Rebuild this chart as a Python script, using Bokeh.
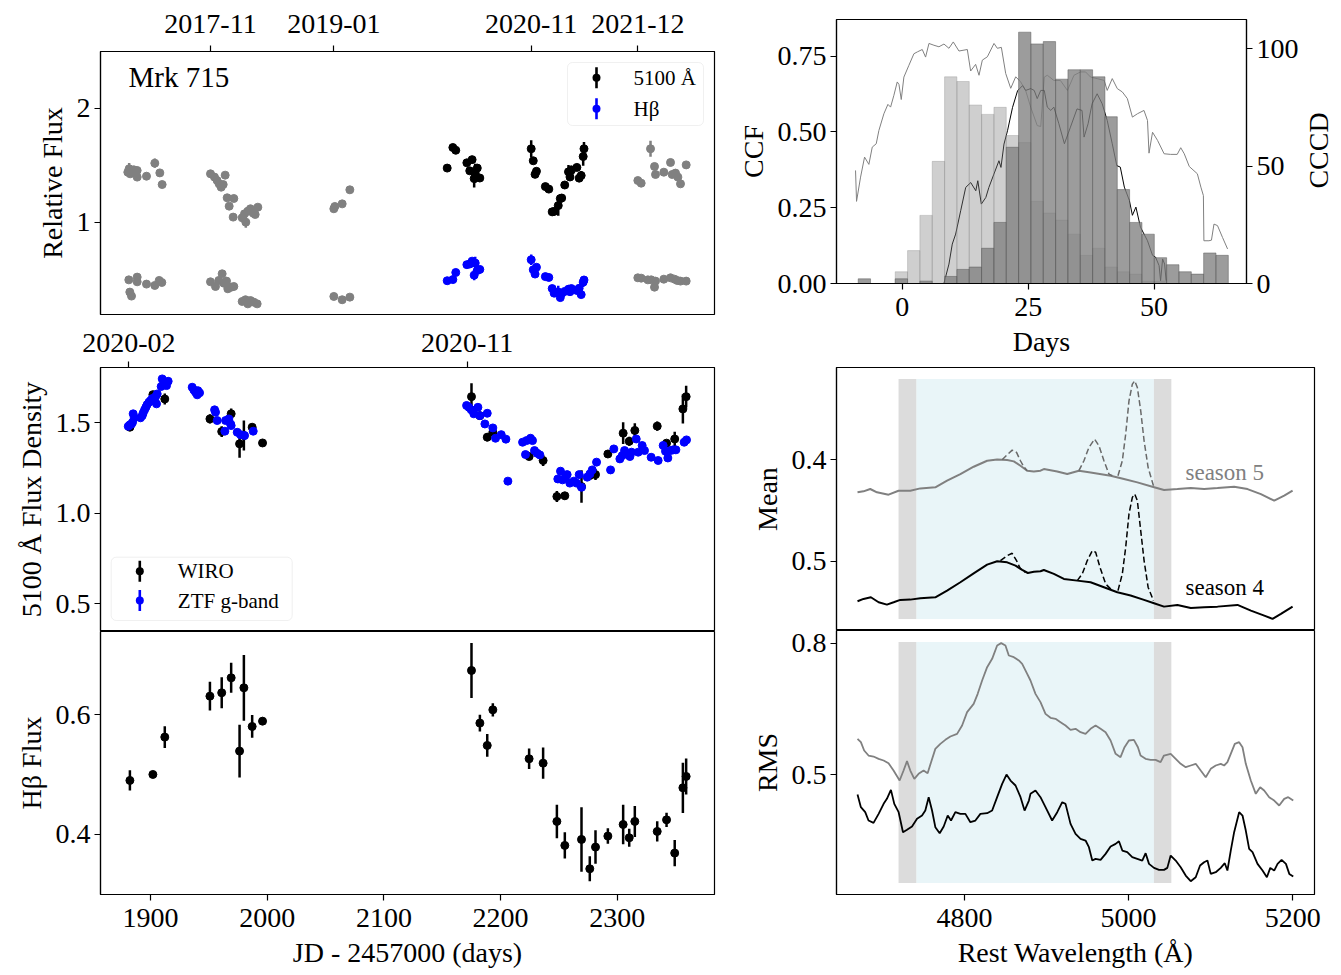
import math
import numpy as np
from bokeh.plotting import figure
from bokeh.models import (Range1d, LinearAxis, FixedTicker, Label, BoxAnnotation,
                          NumeralTickFormatter)
from bokeh.layouts import row, column
from bokeh.embed import file_html
from bokeh.resources import INLINE

# ---------------------------------------------------------------- data
# WIRO spectroscopic epochs (JD - 2457000)
wiro_days = [1882.3, 1902.0, 1912.2, 1950.9, 1961.0, 1969.1, 1976.3, 1980.0, 1987.1, 1996.0,
             2175.1, 2182.3, 2188.6, 2193.4, 2224.5, 2236.5, 2248.3, 2255.1, 2269.4, 2276.5,
             2281.4, 2292.0, 2305.1, 2310.3, 2315.1, 2334.3, 2342.3, 2349.3, 2356.3, 2359.1]
wiro_cont = [1.476, 1.656, 1.632, 1.522, 1.452, 1.550, 1.384, 1.430, 1.476, 1.389,
             1.645, 1.540, 1.421, 1.448, 1.314, 1.292, 1.093, 1.097, 1.148, 1.209,
             1.214, 1.328, 1.443, 1.398, 1.458, 1.482, 1.388, 1.411, 1.577, 1.645]
wiro_cont_err = [0.010, 0.015, 0.030, 0.025, 0.030, 0.030, 0.077, 0.083, 0.015, 0.010,
                 0.074, 0.020, 0.022, 0.010, 0.015, 0.030, 0.030, 0.020, 0.090, 0.025,
                 0.030, 0.010, 0.060, 0.025, 0.040, 0.025, 0.010, 0.040, 0.080, 0.060]
wiro_hb = [0.4903, 0.5003, 0.5627, 0.6312, 0.6368, 0.6618, 0.5393, 0.6451, 0.5805, 0.5894,
           0.6741, 0.5861, 0.5488, 0.6083, 0.5265, 0.5192, 0.4218, 0.3817, 0.3917, 0.3427,
           0.3789, 0.3973, 0.4167, 0.3945, 0.4218, 0.4051, 0.4245, 0.3689, 0.4780, 0.4970]
wiro_hb_err = [0.017, 0.005, 0.018, 0.024, 0.026, 0.025, 0.044, 0.055, 0.019, 0.006,
               0.046, 0.014, 0.019, 0.011, 0.017, 0.026, 0.028, 0.022, 0.054, 0.021,
               0.028, 0.013, 0.033, 0.015, 0.026, 0.017, 0.012, 0.022, 0.042, 0.030]

# ZTF g-band photometry
ztf_days = [1880.9, 1882.3, 1883.7, 1884.6, 1885.1, 1886.0, 1891.4, 1892.9, 1893.7, 1894.9,
            1896.0, 1897.1, 1898.6, 1900.0, 1901.4, 1902.9, 1904.3, 1905.1, 1905.7, 1909.1,
            1910.0, 1911.4, 1913.7, 1915.1, 1935.7, 1937.1, 1938.6, 1940.0, 1940.6, 1942.0,
            1954.9, 1955.7, 1957.1, 1963.7, 1964.3, 1967.1, 1968.6, 1969.1, 1974.3, 1977.1,
            1980.6, 1988.0,
            2170.9, 2172.9, 2174.9, 2177.1, 2180.6, 2182.3, 2186.6, 2188.6, 2193.4, 2195.7,
            2200.6, 2204.6, 2206.3, 2218.9, 2222.3, 2225.7, 2227.4, 2221.4, 2229.1, 2231.4,
            2233.7, 2249.1, 2251.4, 2253.1, 2255.7, 2257.1, 2259.4, 2262.9, 2265.1, 2267.4,
            2269.4, 2274.3, 2276.6, 2278.6, 2282.3, 2294.3, 2297.1, 2302.3, 2304.3, 2306.3,
            2308.6, 2310.9, 2312.3, 2316.3, 2318.0, 2321.4, 2323.4, 2329.1, 2335.1, 2339.4,
            2341.4, 2343.4, 2345.7, 2348.0, 2350.3, 2357.4, 2359.4]
ztf_flux = [1.481, 1.489, 1.494, 1.504, 1.550, 1.528, 1.528, 1.540, 1.555, 1.572,
            1.586, 1.601, 1.614, 1.623, 1.634, 1.627, 1.645, 1.605, 1.660, 1.701,
            1.743, 1.719, 1.706, 1.730, 1.697, 1.682, 1.669, 1.655, 1.678, 1.666,
            1.572, 1.559, 1.513, 1.454, 1.513, 1.522, 1.494, 1.485, 1.448, 1.435,
            1.430, 1.454,
            1.596, 1.586, 1.572, 1.550, 1.586, 1.540, 1.494, 1.553, 1.472, 1.415,
            1.435, 1.410, 1.178, 1.393, 1.402, 1.415, 1.402, 1.325, 1.347, 1.332,
            1.323, 1.190, 1.233, 1.185, 1.200, 1.214, 1.167, 1.178, 1.167, 1.214,
            1.144, 1.200, 1.218, 1.240, 1.283, 1.240, 1.356, 1.301, 1.319, 1.347,
            1.328, 1.314, 1.338, 1.411, 1.338, 1.375, 1.347, 1.310, 1.292, 1.375,
            1.343, 1.306, 1.347, 1.351, 1.351, 1.393, 1.406]

# other seasons (relative flux, grey)
other_cont_days = [769.1, 773.8, 777.3, 790.0, 801.7, 801.7, 834.2, 863.2, 880.7, 888.8,
                   1057.3, 1071.2, 1080.5, 1087.5, 1094.5, 1101.5, 1108.4, 1115.4, 1122.4, 1138.6,
                   1136.3, 1167.7, 1175.8, 1180.4, 1187.4, 1196.7, 1206.0, 1213.0, 1222.3,
                   1487.2, 1490.7, 1516.2, 1543.0,
                   2546.8, 2558.4, 2591.0, 2604.9, 2608.4, 2637.4, 2660.7, 2666.5, 2678.1, 2686.3,
                   2695.5, 2715.3]
other_cont = [1.440, 1.470, 1.426, 1.461, 1.455, 1.397, 1.405, 1.519, 1.434, 1.332,
              1.426, 1.397, 1.367, 1.338, 1.309, 1.332, 1.414, 1.216, 1.143, 1.210,
              1.047, 1.041, 1.076, 1.003, 1.099, 1.120, 1.082, 1.070, 1.134,
              1.120, 1.140, 1.163, 1.286,
              1.367, 1.344, 1.645, 1.490, 1.420, 1.440, 1.525, 1.420, 1.432, 1.397,
              1.338, 1.504]
other_cont_err = [0.02, 0.05, 0.02, 0.01, 0.01, 0.01, 0.03, 0.04, 0.03, 0.03,
                  0.01, 0.01, 0.01, 0.01, 0.02, 0.01, 0.02, 0.02, 0.01, 0.03,
                  0.01, 0.01, 0.01, 0.05, 0.02, 0.01, 0.01, 0.01, 0.01,
                  0.01, 0.01, 0.01, 0.01,
                  0.01, 0.01, 0.07, 0.01, 0.03, 0.01, 0.03, 0.01, 0.01, 0.01,
                  0.01, 0.03]
other_hb_days = [772.6, 776.1, 782.0, 801.7, 801.7, 834.2, 863.2, 878.4, 887.7,
                 1057.3, 1074.7, 1086.3, 1097.9, 1103.8, 1113.1, 1117.7, 1129.3, 1138.6, 1167.7,
                 1179.3, 1187.4, 1196.7, 1208.3, 1219.9,
                 1487.2, 1516.2, 1543.0,
                 2546.8, 2558.4, 2581.7, 2593.3, 2604.9, 2608.4, 2637.4, 2660.7, 2674.6, 2683.9,
                 2695.5, 2715.3]
other_hb = [0.498, 0.391, 0.356, 0.522, 0.481, 0.461, 0.449, 0.493, 0.475,
            0.481, 0.440, 0.493, 0.551, 0.469, 0.487, 0.420, 0.434, 0.440, 0.309,
            0.324, 0.288, 0.317, 0.303, 0.288,
            0.353, 0.324, 0.347,
            0.516, 0.513, 0.498, 0.498, 0.434, 0.487, 0.504, 0.516, 0.504, 0.493,
            0.487, 0.487]
other_hb_err = [0.01, 0.02, 0.01, 0.01, 0.01, 0.01, 0.01, 0.01, 0.01,
                0.01, 0.01, 0.01, 0.01, 0.01, 0.01, 0.02, 0.01, 0.01, 0.01,
                0.01, 0.01, 0.01, 0.01, 0.01,
                0.01, 0.01, 0.01,
                0.01, 0.01, 0.01, 0.01, 0.02, 0.01, 0.01, 0.01, 0.01, 0.01,
                0.01, 0.01]

# date ticks
lc_tick_days = [1057.3, 1487.2, 2175.1, 2546.8]
lc_tick_labels = ["2017-11", "2019-01", "2020-11", "2021-12"]
zoom_tick_days = [1881.4, 2171.4]
zoom_tick_labels = ["2020-02", "2020-11"]
jd_ticks = [1900, 2000, 2100, 2200, 2300]

# CCF / CCCD
ccf_a_lag = [-9.28, -9.08, -8.28, -7.49, -6.63, -5.96, -5.17, -4.64, -3.65, -2.85,
             -2.32, -1.66, -1.0, -0.66, -0.2, 0.32, 1.32, 2.31, 2.98, 3.97,
             4.63, 5.3, 6.29, 7.28, 8.28, 9.27, 10.13, 11.26, 12.92, 13.58,
             14.57, 15.24, 15.9, 16.9, 18.22, 18.88, 19.68, 20.54, 21.54, 22.53,
             23.52, 24.5, 25.5, 26.8, 27.5, 28.2, 28.8, 30.1, 31.4, 32.8,
             34.1, 35.4, 36.4, 37.4, 38.7, 40.1, 40.7, 41.7, 42.7, 43.7,
             44.7, 45.7, 46.7, 48.0, 48.7, 49.0, 49.7, 50.7, 52.0, 53.3,
             54.6, 55.3, 56.0, 57.0, 58.6, 59.3, 59.8, 59.9, 60.9, 61.4,
             61.9, 62.6, 63.6, 64.6]
ccf_a = [0.373, 0.271, 0.351, 0.417, 0.393, 0.450, 0.461, 0.505, 0.560, 0.591,
         0.582, 0.621, 0.665, 0.657, 0.607, 0.681, 0.720, 0.758, 0.764, 0.772,
         0.747, 0.792, 0.786, 0.781, 0.790, 0.776, 0.797, 0.767, 0.772, 0.701,
         0.723, 0.687, 0.737, 0.748, 0.792, 0.776, 0.779, 0.693, 0.644, 0.682,
         0.665, 0.637, 0.582, 0.521, 0.518, 0.681, 0.687, 0.670, 0.670, 0.637,
         0.687, 0.698, 0.698, 0.681, 0.676, 0.670, 0.637, 0.676, 0.643, 0.632,
         0.610, 0.549, 0.560, 0.571, 0.538, 0.430, 0.499, 0.472, 0.428, 0.426,
         0.426, 0.448, 0.428, 0.386, 0.362, 0.318, 0.290, 0.141, 0.141, 0.143,
         0.196, 0.191, 0.152, 0.114]
ccf_b_lag = [8.27, 9.27, 9.93, 10.6, 11.6, 12.6, 13.6, 14.6, 15.0, 15.7,
             16.6, 17.2, 18.2, 19.2, 19.6, 20.2, 20.9, 21.9, 22.9, 23.9,
             24.5, 25.5, 26.2, 26.8, 27.5, 28.2, 28.8, 29.5, 30.1, 31.1,
             32.2, 33.4, 34.7, 35.7, 36.1, 36.9, 37.7, 38.7, 39.7, 40.7,
             41.7, 42.6, 43.3, 44.1, 45.1, 45.7, 46.4, 47.3, 48.7, 49.7,
             50.3, 51.0, 51.3, 51.7, 52.1, 52.4]
ccf_b = [0.0, 0.064, 0.130, 0.163, 0.240, 0.317, 0.333, 0.306, 0.339, 0.262,
         0.284, 0.317, 0.361, 0.405, 0.383, 0.460, 0.504, 0.581, 0.636, 0.653,
         0.637, 0.643, 0.637, 0.610, 0.637, 0.637, 0.582, 0.571, 0.582, 0.527,
         0.461, 0.516, 0.576, 0.571, 0.483, 0.527, 0.593, 0.626, 0.593, 0.538,
         0.461, 0.389, 0.384, 0.318, 0.274, 0.225, 0.252, 0.186, 0.141, 0.093,
         0.087, 0.059, 0.009, 0.081, 0.064, 0.009]
cccd_bin_start = -8.75
cccd_bin_width = 2.45
cccd_light = [0, 0, 0, 5, 14, 29, 52, 88, 86, 76, 72, 75, 63, 60, 35,
              30, 27, 21, 12, 15, 7, 5, 4, 1, 1, 0, 0, 0, 0, 0]
cccd_dark = [2, 0, 0, 2, 0, 1, 0, 3, 6, 7, 15, 26, 58, 107, 102,
             103, 87, 91, 91, 88, 71, 40, 26, 21, 11, 8, 5, 4, 13, 12]

# mean spectra
mean_s5_wave = [4669.8, 4677.1, 4685.3, 4693.5, 4707.6, 4719.8, 4734.1, 4746.3, 4764.6, 4778.9,
                4795.1, 4811.3, 4827.7, 4839.9, 4852.1, 4860.2, 4868.3, 4876.5, 4884.6, 4892.7,
                4896.8, 4913.1, 4925.3, 4939.5, 4953.7, 4978.1, 4994.4, 5010.7, 5029.0, 5043.2,
                5059.5, 5075.8, 5092.0, 5108.3, 5128.6, 5144.9, 5161.2, 5177.4, 5189.6, 5199.8]
mean_s5 = [0.3679, 0.3689, 0.3712, 0.3679, 0.3656, 0.3695, 0.3695, 0.3718, 0.3728, 0.3794,
           0.3859, 0.3931, 0.3990, 0.4003, 0.3997, 0.3984, 0.3941, 0.3892, 0.3885, 0.3892,
           0.3908, 0.3885, 0.3859, 0.3892, 0.3875, 0.3843, 0.3810, 0.3777, 0.3734, 0.3702,
           0.3711, 0.3721, 0.3711, 0.3721, 0.3734, 0.3711, 0.3662, 0.3597, 0.3646, 0.3695]
mean_s4_wave = [4669.8, 4677.1, 4686.1, 4695.5, 4705.6, 4713.8, 4721.9, 4734.1, 4746.3, 4764.6,
                4778.9, 4795.1, 4811.3, 4827.7, 4839.9, 4852.1, 4862.3, 4870.4, 4877.3, 4884.6,
                4892.7, 4896.8, 4909.0, 4921.2, 4937.5, 4953.7, 4970.0, 4986.3, 5002.5, 5018.8,
                5031.0, 5043.2, 5059.5, 5075.8, 5092.0, 5108.3, 5132.7, 5149.0, 5165.3, 5175.4,
                5185.6, 5199.8]
mean_s4 = [0.4607, 0.4630, 0.4646, 0.4597, 0.4574, 0.4597, 0.4620, 0.4623, 0.4636, 0.4646,
           0.4712, 0.4794, 0.4882, 0.4967, 0.5000, 0.4990, 0.4957, 0.4915, 0.4885, 0.4898,
           0.4902, 0.4915, 0.4876, 0.4827, 0.4810, 0.4794, 0.4745, 0.4695, 0.4663, 0.4620,
           0.4587, 0.4554, 0.4571, 0.4541, 0.4548, 0.4554, 0.4571, 0.4515, 0.4466, 0.4433,
           0.4482, 0.4554]
season4_offset = 0.2   # season 4 mean spectrum is drawn shifted down by this amount

# narrow-line (Hbeta, [OIII] 4959, 5007) models, dashed
narrow_s5_wave = [[4846.0, 4852.1, 4858.2, 4863.5, 4868.3, 4872.4, 4876.5],
                  [4939.5, 4945.6, 4951.7, 4958.6, 4963.9, 4970.0, 4976.1, 4980.2],
                  [4987.1, 4992.4, 4996.5, 5000.5, 5004.6, 5007.5, 5010.7, 5014.8, 5018.9, 5023.8, 5030.3]]
narrow_s5 = [[0.4000, 0.4049, 0.4095, 0.4072, 0.3990, 0.3931, 0.3892],
             [0.3892, 0.3990, 0.4121, 0.4203, 0.4138, 0.3990, 0.3859, 0.3843],
             [0.3843, 0.3990, 0.4252, 0.4580, 0.4744, 0.4777, 0.4711, 0.4482, 0.4187, 0.3925, 0.3744]]
narrow_s4_wave = [[4843.9, 4852.1, 4858.2, 4863.5, 4868.3, 4874.4],
                  [4937.5, 4943.6, 4949.7, 4955.8, 4959.9, 4965.2, 4972.1, 4980.2],
                  [4987.1, 4992.4, 4996.5, 5000.5, 5004.6, 5007.5, 5010.7, 5014.8, 5018.9, 5023.8, 5030.3]]
narrow_s4 = [[0.5007, 0.5056, 0.5079, 0.5007, 0.4925, 0.4892],
             [0.4810, 0.4876, 0.5007, 0.5105, 0.5089, 0.4941, 0.4777, 0.4712],
             [0.4712, 0.4876, 0.5138, 0.5466, 0.5630, 0.5662, 0.5597, 0.5302, 0.5007, 0.4745, 0.4613]]

# RMS spectra
rms_s5_wave = [4669.8, 4673.9, 4677.9, 4683.2, 4689.3, 4695.5, 4701.6, 4707.6, 4713.7, 4721.1,
               4725.9, 4730.1, 4734.1, 4739.0, 4744.2, 4750.3, 4755.2, 4759.4, 4764.6, 4770.7,
               4776.8, 4782.9, 4791.1, 4797.2, 4803.3, 4811.3, 4816.2, 4821.6, 4827.7, 4833.8,
               4839.9, 4844.8, 4850.0, 4854.1, 4860.2, 4866.3, 4870.4, 4876.5,
               4880.5, 4886.6, 4892.7, 4898.8, 4904.9, 4911.0, 4917.1, 4923.2, 4929.3, 4935.4,
               4941.5, 4947.6, 4953.7, 4959.8, 4965.9, 4972.0, 4978.1, 4984.2, 4990.2, 4995.1,
               5000.4, 5006.5, 5011.4, 5014.6, 5020.7, 5026.8, 5032.9, 5039.0, 5043.1, 5051.3,
               5057.4, 5063.5, 5069.6, 5075.7, 5081.8, 5087.9, 5094.0, 5100.1, 5106.2, 5112.3,
               5116.4, 5120.4, 5124.5, 5129.4, 5134.7, 5138.8, 5142.8, 5148.9, 5155.0, 5160.3,
               5165.2, 5171.3, 5177.4, 5183.5, 5189.6, 5194.5, 5200.6]
rms_s5 = [0.5815, 0.5739, 0.5548, 0.5434, 0.5411, 0.5358, 0.5320, 0.5259, 0.5091, 0.4863,
          0.5091, 0.5305, 0.5091, 0.4901, 0.5015, 0.5091, 0.5030, 0.5282, 0.5586, 0.5700,
          0.5792, 0.5868, 0.5929, 0.6119, 0.6424, 0.6614, 0.6843, 0.7148, 0.7452, 0.7643,
          0.7947, 0.8001, 0.7947, 0.7719, 0.7681, 0.7605, 0.7528, 0.7300,
          0.7148, 0.6843, 0.6653, 0.6386, 0.6295, 0.6272, 0.6196, 0.6119, 0.6020, 0.6043,
          0.5967, 0.5929, 0.6043, 0.6119, 0.6043, 0.5967, 0.5777, 0.5472, 0.5396, 0.5624,
          0.5777, 0.5792, 0.5624, 0.5434, 0.5358, 0.5335, 0.5335, 0.5282, 0.5434, 0.5472,
          0.5358, 0.5244, 0.5167, 0.5206, 0.5244, 0.5091, 0.4939, 0.5129, 0.5206, 0.5244,
          0.5206, 0.5282, 0.5472, 0.5700, 0.5739, 0.5624, 0.5244, 0.4863, 0.4558, 0.4710,
          0.4634, 0.4482, 0.4406, 0.4292, 0.4444, 0.4482, 0.4406]
rms_s4_wave = [4669.8, 4673.9, 4679.2, 4683.2, 4689.3, 4695.5, 4701.6, 4705.6, 4710.5, 4714.6,
               4719.9, 4725.2, 4730.1, 4736.2, 4742.3, 4748.4, 4752.4, 4756.5, 4760.6, 4764.6,
               4769.9, 4774.8, 4779.7, 4783.7, 4789.0, 4795.1, 4801.2, 4807.3, 4813.4, 4819.5,
               4827.7, 4833.8, 4839.9, 4846.0, 4851.3, 4856.2, 4862.3, 4868.4, 4873.3, 4878.6,
               4880.5, 4886.6, 4892.7, 4898.8, 4906.9, 4913.1, 4919.2, 4923.2, 4929.3, 4935.4,
               4941.5, 4947.6, 4951.7, 4955.8, 4959.8, 4965.9, 4972.0, 4978.1, 4984.2, 4988.3,
               4992.4, 4998.4, 5004.5, 5010.6, 5016.7, 5020.8, 5024.9, 5031.0, 5037.1, 5043.2,
               5047.2, 5051.3, 5057.4, 5063.5, 5069.6, 5075.7, 5081.8, 5087.1, 5092.0, 5096.1,
               5100.1, 5106.2, 5112.3, 5117.2, 5120.4, 5124.5, 5128.6, 5134.7, 5138.8, 5142.8,
               5146.9, 5151.0, 5157.1, 5163.2, 5168.5, 5172.6, 5177.4, 5181.5, 5186.4, 5191.7,
               5195.8, 5200.6]
rms_s4 = [0.4543, 0.4253, 0.4139, 0.3949, 0.3895, 0.4101, 0.4330, 0.4444, 0.4650, 0.4330,
          0.4139, 0.3682, 0.3736, 0.3812, 0.3987, 0.4063, 0.4177, 0.4482, 0.4177, 0.3797,
          0.3659, 0.3812, 0.4063, 0.3949, 0.4139, 0.4101, 0.4101, 0.3911, 0.3949, 0.4101,
          0.4116, 0.4177, 0.4482, 0.4787, 0.5000, 0.4863, 0.4749, 0.4482, 0.4177, 0.4406,
          0.4558, 0.4634, 0.4482, 0.4253, 0.3949, 0.4139, 0.4368, 0.4330, 0.3873, 0.3644,
          0.3530, 0.3492, 0.3340, 0.3035, 0.3073, 0.3050, 0.3187, 0.3355, 0.3416, 0.3477,
          0.3263, 0.3225, 0.3111, 0.3073, 0.3035, 0.3202, 0.2959, 0.2867, 0.2822, 0.2822,
          0.2867, 0.3149, 0.3035, 0.2883, 0.2692, 0.2563, 0.2654, 0.2921, 0.2997, 0.3035,
          0.2730, 0.2768, 0.2867, 0.2974, 0.2806, 0.3263, 0.3682, 0.4139, 0.4063, 0.3720,
          0.3301, 0.3225, 0.2959, 0.2806, 0.2654, 0.2867, 0.2806, 0.2959, 0.3050, 0.2959,
          0.2730, 0.2669]

# wavelength windows
cont_windows = [(4719.8, 4741.4), (5030.9, 5052.1)]
line_window = (4741.4, 5030.9)

# ---------------------------------------------------------------- style
FONT = "Liberation Serif"
TICK_FS = "28px"
LABEL_FS = "28px"


def new_fig(**kw):
    p = figure(toolbar_location=None, output_backend="svg", **kw)
    p.xgrid.visible = False
    p.ygrid.visible = False
    p.outline_line_color = "black"
    p.outline_line_width = 1.2
    p.background_fill_color = "white"
    p.border_fill_color = "white"
    return p


def style_axes(p, above_standoff=10):
    for ax in p.axis:
        ax.major_label_text_font = FONT
        ax.major_label_text_font_size = TICK_FS
        ax.major_label_text_color = "black"
        ax.axis_label_text_font = FONT
        ax.axis_label_text_font_size = LABEL_FS
        ax.axis_label_text_font_style = "normal"
        ax.axis_label_text_color = "black"
        ax.minor_tick_line_color = None
        ax.major_tick_in = 0
        ax.major_tick_out = 6
        ax.major_tick_line_width = 1.2
        ax.axis_line_width = 1.2
        ax.major_label_standoff = 4
        ax.axis_label_standoff = 6
    for ax in p.above:
        ax.major_label_standoff = above_standoff
    for ax in p.below:
        ax.major_label_standoff = 8
        ax.axis_label_standoff = 7


def errorbars(p, x, y, e, color, **kw):
    x = np.asarray(x, float)
    y = np.asarray(y, float)
    e = np.asarray(e, float)
    p.segment(x0=x, y0=y - e, x1=x, y1=y + e, line_color=color, line_width=2.5, **kw)
    p.scatter(x=x, y=y, size=8, fill_color=color, line_color=color, **kw)


def screen_box(**kw):
    return BoxAnnotation(left_units="screen", right_units="screen",
                         top_units="screen", bottom_units="screen", **kw)


def errbar_legend(p, box, glyph_x, text_x, entries, fs="21px"):
    l, r, b, t = box
    p.add_layout(screen_box(left=l, right=r, bottom=b, top=t, fill_color="white",
                            fill_alpha=0.85, line_color="#cccccc", line_width=1,
                            border_radius=5))
    for gy, color, text in entries:
        p.add_layout(screen_box(left=glyph_x - 1.3, right=glyph_x + 1.3, bottom=gy - 10.5,
                                top=gy + 10.5, fill_color=color, fill_alpha=1,
                                line_color=None))
        p.add_layout(screen_box(left=glyph_x - 4, right=glyph_x + 4, bottom=gy - 4,
                                top=gy + 4, fill_color=color, fill_alpha=1,
                                line_color=None, border_radius=4))
        p.add_layout(Label(x=text_x, y=gy, x_units="screen", y_units="screen", text=text,
                           text_font=FONT, text_font_size=fs, text_baseline="middle",
                           text_color="black"))


# ---------------------------------------------------------------- panel 1: long light curve
p1 = new_fig(width=724, height=320, x_range=Range1d(673.9, 2814.0),
             y_range=Range1d(0.195, 2.496), x_axis_location="above",
             min_border_left=100, min_border_right=10, min_border_top=51, min_border_bottom=6)
p1.xaxis.ticker = FixedTicker(ticks=lc_tick_days)
p1.xaxis.major_label_overrides = dict(zip(lc_tick_days, lc_tick_labels))
p1.yaxis.ticker = FixedTicker(ticks=[1, 2])
p1.yaxis.axis_label = "Relative Flux"
errorbars(p1, other_cont_days, other_cont, other_cont_err, "gray")
errorbars(p1, other_hb_days, other_hb, other_hb_err, "gray")
errorbars(p1, wiro_days, wiro_cont, wiro_cont_err, "black")
errorbars(p1, wiro_days, wiro_hb, wiro_hb_err, "blue")
p1.add_layout(Label(x=28, y=238, x_units="screen", y_units="screen", text="Mrk 715",
                    text_font=FONT, text_font_size="29px", text_baseline="middle",
                    text_color="black"))
errbar_legend(p1, (467, 603, 189, 252), 496, 533, [(236.7, "black", "5100 Å"),
                                                   (205.7, "blue", "Hβ")])
style_axes(p1, above_standoff=13)

# ---------------------------------------------------------------- panel 2: CCF / CCCD
p2 = new_fig(width=612, height=367, x_range=Range1d(-13.06, 68.36),
             y_range=Range1d(0, 0.871),
             min_border_left=112, min_border_right=90, min_border_top=19, min_border_bottom=84)
p2.extra_y_ranges = {"cccd": Range1d(0, 112.4)}
p2.xaxis.ticker = FixedTicker(ticks=[0, 25, 50])
p2.xaxis.axis_label = "Days"
p2.yaxis.ticker = FixedTicker(ticks=[0, 0.25, 0.5, 0.75])
p2.yaxis.formatter = NumeralTickFormatter(format="0.00")
p2.yaxis.axis_label = "CCF"
p2.add_layout(LinearAxis(y_range_name="cccd", ticker=FixedTicker(ticks=[0, 50, 100])), "right")
edges = cccd_bin_start + cccd_bin_width * np.arange(len(cccd_dark) + 1)
p2.line(ccf_a_lag, ccf_a, line_color="gray", line_width=1)
p2.line(ccf_b_lag, ccf_b, line_color="black", line_width=1)
p2.quad(left=edges[:-1], right=edges[1:], bottom=0, top=cccd_light, y_range_name="cccd",
        fill_color="gray", fill_alpha=0.38, line_color="gray", line_alpha=0.3, line_width=1)
p2.quad(left=edges[:-1], right=edges[1:], bottom=0, top=cccd_dark, y_range_name="cccd",
        fill_color="gray", fill_alpha=0.78, line_color="#505050", line_alpha=0.45, line_width=1)
style_axes(p2)

# transparent overlay strip that carries the right-hand axis title (reads bottom-to-top)
CCCD_W = 50
p2_title = figure(width=CCCD_W, height=367, toolbar_location=None, output_backend="svg",
                  x_range=Range1d(0, 1), y_range=Range1d(0, 1),
                  x_axis_location=None, y_axis_location=None,
                  min_border_left=0, min_border_right=0, min_border_top=19,
                  min_border_bottom=84)
p2_title.xgrid.visible = False
p2_title.ygrid.visible = False
p2_title.outline_line_color = None
p2_title.background_fill_alpha = 0
p2_title.border_fill_alpha = 0
p2_title.margin = (0, 0, 0, -CCCD_W)
p2_title.add_layout(Label(x=32, y=133, x_units="screen", y_units="screen", text="CCCD",
                          angle=math.pi / 2, text_align="center", text_baseline="middle",
                          text_font=FONT, text_font_size=LABEL_FS, text_color="black"))

# ---------------------------------------------------------------- panel 3: continuum
jd_range = Range1d(1857.1, 2383.4)
p3 = new_fig(width=724, height=311, x_range=jd_range, y_range=Range1d(0.347, 1.806),
             x_axis_location="above",
             min_border_left=100, min_border_right=10, min_border_top=47, min_border_bottom=0)
p3.xaxis.ticker = FixedTicker(ticks=zoom_tick_days)
p3.xaxis.major_label_overrides = dict(zip(zoom_tick_days, zoom_tick_labels))
p3.yaxis.ticker = FixedTicker(ticks=[0.5, 1.0, 1.5])
p3.yaxis.formatter = NumeralTickFormatter(format="0.0")
p3.yaxis.axis_label = "5100 Å Flux Density"
errorbars(p3, wiro_days, wiro_cont, wiro_cont_err, "black")
p3.scatter(x=ztf_days, y=ztf_flux, size=8, fill_color="blue", line_color="blue")
errbar_legend(p3, (10.7, 191.7, 11, 74.3), 39.3, 77.3, [(60.3, "black", "WIRO"),
                                                      (31.0, "blue", "ZTF g-band")])
style_axes(p3)

# ---------------------------------------------------------------- panel 4: Hbeta
p4 = new_fig(width=724, height=343, x_range=jd_range, y_range=Range1d(0.2997, 0.7392),
             min_border_left=100, min_border_right=10, min_border_top=0, min_border_bottom=80)
p4.xaxis.ticker = FixedTicker(ticks=jd_ticks)
p4.xaxis.axis_label = "JD - 2457000 (days)"
p4.yaxis.ticker = FixedTicker(ticks=[0.4, 0.6])
p4.yaxis.axis_label = "Hβ Flux"
errorbars(p4, wiro_days, wiro_hb, wiro_hb_err, "black")
style_axes(p4)

# ---------------------------------------------------------------- panel 5: mean spectra
wave_range = Range1d(4644.2, 5226.5)


def add_windows(p, frame_h):
    m = 0.044 * frame_h
    kw = dict(bottom=m, top=frame_h - m, bottom_units="screen", top_units="screen",
              line_color=None, level="underlay")
    p.add_layout(BoxAnnotation(left=line_window[0], right=line_window[1],
                               fill_color="#e9f5f8", fill_alpha=1, **kw))
    for lo, hi in cont_windows:
        p.add_layout(BoxAnnotation(left=lo, right=hi, fill_color="#dcdcdc", fill_alpha=1, **kw))


p5 = new_fig(width=612, height=263, x_range=wave_range, y_range=Range1d(0.2319, 0.4908),
             x_axis_location=None,
             min_border_left=112, min_border_right=22, min_border_top=0, min_border_bottom=0)
add_windows(p5, 263)
p5.yaxis.ticker = FixedTicker(ticks=[0.5 - season4_offset, 0.4])
p5.yaxis.major_label_overrides = {0.5 - season4_offset: "0.5", 0.4: "0.4"}
p5.yaxis.axis_label = "Mean"
p5.line(mean_s5_wave, mean_s5, line_color="gray", line_width=2)
p5.line(mean_s4_wave, np.asarray(mean_s4) - season4_offset, line_color="black", line_width=2)
p5.multi_line(xs=narrow_s5_wave, ys=narrow_s5, line_color="dimgray", line_width=1.5,
              line_dash="6 3")
p5.multi_line(xs=narrow_s4_wave, ys=[list(np.asarray(v) - season4_offset) for v in narrow_s4],
              line_color="black", line_width=1.5, line_dash="6 3")
p5.add_layout(Label(x=349, y=158, x_units="screen", y_units="screen", text="season 5",
                    text_color="gray", text_font=FONT, text_font_size="23px",
                    text_baseline="middle"))
p5.add_layout(Label(x=349, y=43, x_units="screen", y_units="screen", text="season 4",
                    text_color="black", text_font=FONT, text_font_size="23px",
                    text_baseline="middle"))
style_axes(p5)

# ---------------------------------------------------------------- panel 6: rms spectra
# the canvas starts 12 px above the frame (transparent border) so that the top tick label fits
RMS_TOP = 12
p6 = new_fig(width=612, height=344 + RMS_TOP, x_range=wave_range,
             y_range=Range1d(0.2259, 0.829),
             min_border_left=112, min_border_right=22, min_border_top=RMS_TOP,
             min_border_bottom=80)
p6.border_fill_alpha = 0
p6.margin = (-RMS_TOP, 0, 0, 0)
add_windows(p6, 264)
p6.xaxis.ticker = FixedTicker(ticks=[4800, 5000, 5200])
p6.xaxis.axis_label = "Rest Wavelength (Å)"
p6.yaxis.ticker = FixedTicker(ticks=[0.5, 0.8])
p6.yaxis.axis_label = "RMS"
p6.line(rms_s5_wave, rms_s5, line_color="gray", line_width=1.8)
p6.line(rms_s4_wave, rms_s4, line_color="black", line_width=1.8)
style_axes(p6)

layout = row(column(p1, p3, p4), column(row(p2, p2_title), column(p5, p6)))
open("out.html", "w").write(file_html(layout, INLINE))
